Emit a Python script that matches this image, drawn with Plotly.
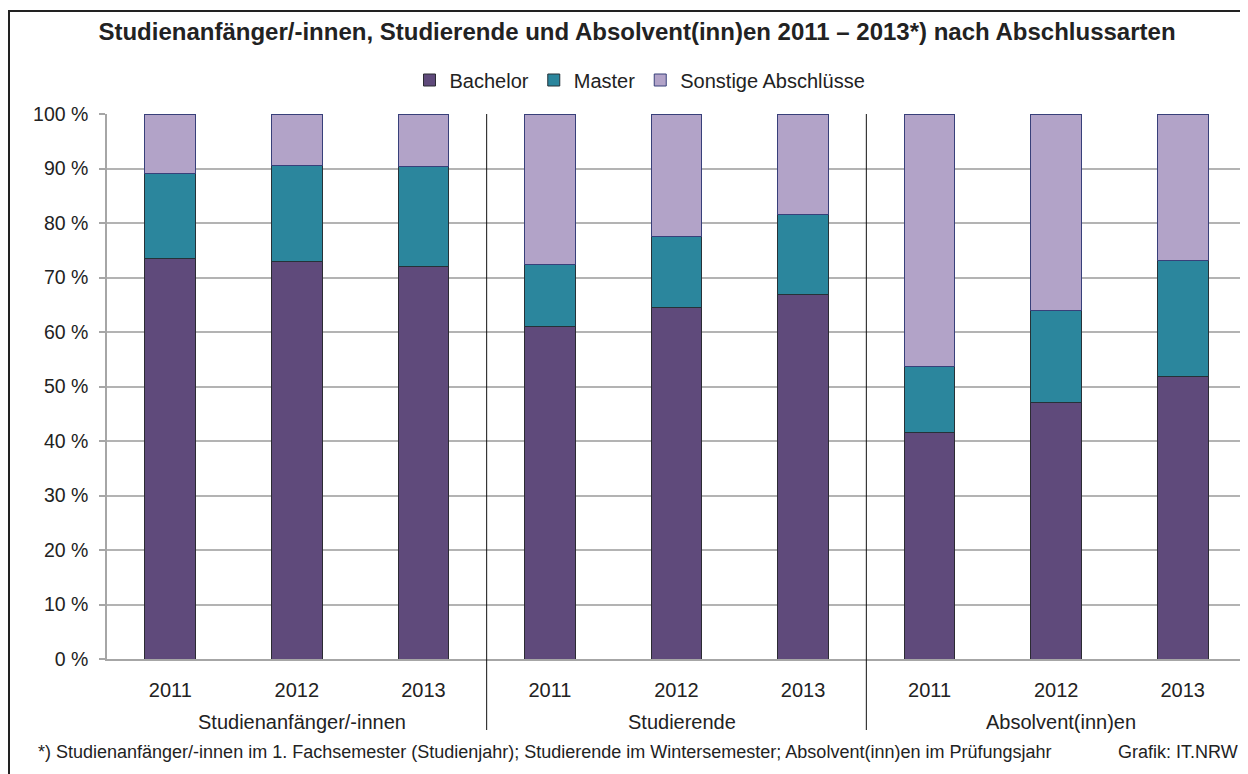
import plotly.graph_objects as go

groups = ["Studienanfänger/-innen", "Studierende", "Absolvent(inn)en"]
years = ["2011", "2012", "2013"]
series_names = ["Bachelor", "Master", "Sonstige Abschlüsse"]

# values in percent
bachelor = [73.4, 73.0, 72.1, 61.0, 64.5, 66.8, 41.5, 47.1, 51.9]
master = [15.6, 17.5, 18.2, 11.3, 13.1, 14.7, 12.1, 16.8, 21.3]
sonstige = [round(100 - b - m, 1) for b, m in zip(bachelor, master)]

colors = ["#5f4a7b", "#2b869d", "#b2a3c8"]
outlines = ["#2b2b33", "#263238", "#38407a"]

n = len(groups) * len(years)
xs = list(range(n))
ticklabels = [y for g in groups for y in years]

# plot-area geometry in figure pixels
L, T, R, B = 99, 106, 10, 123
W, H = 1248, 774
pw = W - L - R
ph = H - T - B


def px_to_paper_x(px):
    return (px - L) / pw


def px_to_paper_y(py):
    return (H - B - py) / ph


fig = go.Figure()
for name, vals, c, oc in zip(series_names, [bachelor, master, sonstige], colors, outlines):
    fig.add_trace(go.Bar(
        x=xs, y=vals, name=name, width=0.4,
        marker=dict(color=c, line=dict(color=oc, width=1)),
    ))

font_family = "Liberation Sans, Arial, sans-serif"
txt = "#222222"

fig.update_layout(
    width=W, height=H,
    barmode="stack",
    margin=dict(l=L, r=R, t=T, b=B),
    paper_bgcolor="white", plot_bgcolor="white",
    font=dict(family=font_family, size=20, color=txt),
    showlegend=True,
    legend=dict(orientation="h", x=px_to_paper_x(632), xanchor="center",
                y=px_to_paper_y(72), yanchor="middle",
                font=dict(size=20, color=txt), itemwidth=30, traceorder="normal",
                bgcolor="rgba(0,0,0,0)"),
    title=dict(text="<b>Studienanfänger/-innen, Studierende und Absolvent(inn)en 2011 – 2013*) nach Abschlussarten</b>",
               x=629 / W, xanchor="center", y=1 - 24 / H, yanchor="middle",
               font=dict(size=24, color=txt, family=font_family)),
    xaxis=dict(range=[-0.5, n - 0.5], tickmode="array", tickvals=xs, ticktext=ticklabels,
               showgrid=False, zeroline=False, showline=True, linecolor="#a6a6a6", linewidth=1.5,
               ticks="", ticklabelstandoff=12, tickfont=dict(size=20, color=txt)),
    yaxis=dict(range=[0, 100], tick0=0, dtick=10, ticksuffix=" %", showgrid=True,
               gridcolor="#b3b3b3", gridwidth=1.5, zeroline=False, showline=True,
               linecolor="#a6a6a6", linewidth=1.5, ticks="outside", ticklen=6,
               tickcolor="#a6a6a6", tickwidth=1.5, ticklabelstandoff=7,
               tickfont=dict(size=19.5, color=txt)),
)

# group separators
for k in range(1, len(groups)):
    xpos = k * len(years) - 0.5
    fig.add_shape(type="line", xref="x", yref="paper", x0=xpos, x1=xpos,
                  y0=px_to_paper_y(722), y1=1,
                  line=dict(color="#111111", width=1))

# group labels
for gi, g in enumerate(groups):
    fig.add_annotation(x=gi * len(years) + (len(years) - 1) / 2 + 0.04, xref="x",
                       y=px_to_paper_y(714), yref="paper", yanchor="middle",
                       text=g, showarrow=False, font=dict(size=20, color=txt))

# footnote
fig.add_annotation(x=px_to_paper_x(28), xref="paper", y=px_to_paper_y(744), yref="paper",
                   xanchor="left", yanchor="middle", showarrow=False,
                   text="*) Studienanfänger/-innen im 1. Fachsemester (Studienjahr); Studierende im Wintersemester; Absolvent(inn)en im Prüfungsjahr",
                   font=dict(size=18, color=txt))
fig.add_annotation(x=px_to_paper_x(1232), xref="paper", y=px_to_paper_y(744), yref="paper",
                   xanchor="right", yanchor="middle", showarrow=False,
                   text="Grafik: IT.NRW", font=dict(size=18, color=txt))

# outer frame
fig.add_shape(type="rect", xref="paper", yref="paper",
              x0=px_to_paper_x(1), x1=px_to_paper_x(W + 20),
              y0=px_to_paper_y(H + 20), y1=px_to_paper_y(3),
              line=dict(color="#222222", width=2), fillcolor="rgba(0,0,0,0)")

fig.write_html("out.html")
